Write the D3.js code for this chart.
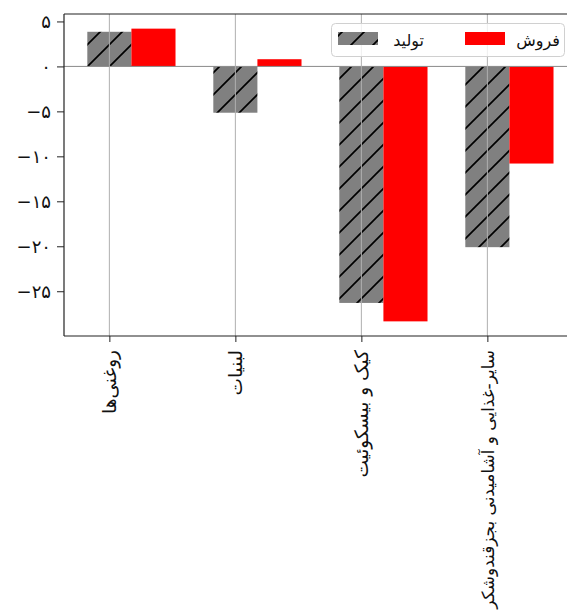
<!DOCTYPE html>
<html>
<head>
<meta charset="utf-8">
<script src="https://cdn.jsdelivr.net/npm/d3@7"></script>
<style>
  html, body { margin: 0; padding: 0; background: #fff; }
  svg { display: block; }
  text { font-family: "DejaVu Sans", sans-serif; }
</style>
</head>
<body>
<svg id="chart" width="567" height="612"></svg>
<script>
// ---- data ----
const categories = ["روغنی‌ها", "لبنیات", "کیک و بیسکوئیت", "سایر-غذایی و آشامیدنی بجزقندوشکر"];
const production = [3.85, -5.15, -26.3, -20.1];   // تولید
const sales = [4.2, 0.8, -28.35, -10.8];           // فروش
const seriesNames = ["تولید", "فروش"];
const yTicks = [5, 0, -5, -10, -15, -20, -25];

(function () {
// ---- layout ----
const W = 567, H = 612;
const mLeft = 64, mTop = 14, mBottom = 336;
const barW = 0.35;
const svg = d3.select("#chart");
svg.append("rect").attr("width", W).attr("height", H).attr("fill", "#fff");

// x domain like matplotlib autoscale (5% margins)
const xMin = -barW / 2, xMax = categories.length - 1 + barW * 1.5;
const xPad = (xMax - xMin) * 0.05;
const pxPerUnit = 126;
const x = d3.scaleLinear().domain([xMin - xPad, xMax + xPad])
  .range([mLeft, mLeft + pxPerUnit * (xMax - xMin + 2 * xPad)]);

const all = production.concat(sales);
const yLo = d3.min(all), yHi = d3.max(all);
const yPad = (yHi - yLo) * 0.05;
const y = d3.scaleLinear().domain([yLo - yPad, yHi + yPad]).range([mBottom, mTop]);

// hatch pattern
const defs = svg.append("defs");
const pat = defs.append("pattern").attr("id", "hatch")
  .attr("patternUnits", "userSpaceOnUse").attr("width", 22).attr("height", 22);
pat.append("rect").attr("width", 22).attr("height", 22).attr("fill", "#808080");
pat.append("path").attr("d", "M-2,24 L24,-2 M-13,13 L13,-13 M9,35 L35,9")
  .attr("stroke", "#000").attr("stroke-width", 1.7);

const clip = defs.append("clipPath").attr("id", "plotclip");
clip.append("rect").attr("x", mLeft).attr("y", mTop).attr("width", W - mLeft).attr("height", mBottom - mTop);

const plot = svg.append("g").attr("clip-path", "url(#plotclip)");

// bars
plot.selectAll("rect.prod").data(production).join("rect").attr("class", "prod")
  .attr("x", (d, i) => x(i - barW / 2))
  .attr("width", (d, i) => x(i + barW / 2) - x(i - barW / 2))
  .attr("y", d => y(Math.max(0, d)))
  .attr("height", d => Math.abs(y(d) - y(0)))
  .attr("fill", "url(#hatch)");

plot.selectAll("rect.sales").data(sales).join("rect").attr("class", "sales")
  .attr("x", (d, i) => x(i + barW / 2))
  .attr("width", (d, i) => x(i + barW * 1.5) - x(i + barW / 2))
  .attr("y", d => y(Math.max(0, d)))
  .attr("height", d => Math.abs(y(d) - y(0)))
  .attr("fill", "#ff0000");

// zero line
plot.append("line").attr("x1", mLeft).attr("x2", W).attr("y1", y(0)).attr("y2", y(0))
  .attr("stroke", "#8a8a8a").attr("stroke-width", 1);

// vertical grid
plot.selectAll("line.grid").data(categories.map((d, i) => i)).join("line").attr("class", "grid")
  .attr("x1", d => x(d)).attr("x2", d => x(d)).attr("y1", mTop).attr("y2", mBottom)
  .attr("stroke", "#b0b0b0").attr("stroke-width", 1);

// helpers
const faDigits = "۰۱۲۳۴۵۶۷۸۹";
const toFa = n => (n < 0 ? "−" : "") + String(Math.abs(n)).replace(/\d/g, c => faDigits[+c]);

// y axis
const yAxis = svg.append("g").attr("transform", `translate(${mLeft},0)`)
  .call(d3.axisLeft(y).tickValues(yTicks).tickFormat(toFa).tickSize(7).tickPadding(6));
yAxis.select(".domain").remove();
yAxis.selectAll("text").attr("font-size", 18).attr("fill", "#111").style("font-family", "DejaVu Sans");
yAxis.selectAll("line").attr("stroke", "#222");

// x axis
const labelOffset = 14, labelFont = 18.5;
const xAxis = svg.append("g").attr("transform", `translate(0,${mBottom})`)
  .call(d3.axisBottom(x).tickValues(categories.map((d, i) => i)).tickFormat(i => categories[i]).tickSize(6));
xAxis.select(".domain").remove();
xAxis.selectAll("line").attr("stroke", "#222");
xAxis.selectAll("text")
  .attr("transform", "rotate(-90)")
  .attr("text-anchor", "end")
  .attr("x", -labelOffset).attr("y", 0).attr("dy", "0.35em")
  .attr("font-size", labelFont).attr("fill", "#111").style("font-family", "DejaVu Sans")
  .each(function () {
    // shrink a label only if it would run past the bottom edge
    const avail = H - mBottom - labelOffset - 3;
    const len = this.getComputedTextLength();
    if (len > avail) d3.select(this).attr("font-size", labelFont * avail / len);
  });

// spines
svg.append("line").attr("x1", mLeft).attr("x2", mLeft).attr("y1", mTop).attr("y2", mBottom).attr("stroke", "#222").attr("stroke-width", 1.2);
svg.append("line").attr("x1", mLeft).attr("x2", W).attr("y1", mTop).attr("y2", mTop).attr("stroke", "#222").attr("stroke-width", 1.2);
svg.append("line").attr("x1", mLeft).attr("x2", W).attr("y1", mBottom).attr("y2", mBottom).attr("stroke", "#222").attr("stroke-width", 1.2);

// legend
const lg = svg.append("g");
lg.append("rect").attr("x", 331.5).attr("y", 23.5).attr("width", 233).attr("height", 33).attr("rx", 4)
  .attr("fill", "#fff").attr("fill-opacity", 0.8).attr("stroke", "#d0d0d0");
lg.append("rect").attr("x", 338).attr("y", 32).attr("width", 40).attr("height", 13).attr("fill", "url(#hatch)");
lg.append("text").attr("x", 424).attr("y", 40).attr("dy", "0.35em").attr("text-anchor", "end")
  .attr("font-size", 16).attr("fill", "#111").text(seriesNames[0]);
lg.append("rect").attr("x", 465).attr("y", 32).attr("width", 40).attr("height", 13).attr("fill", "#ff0000");
lg.append("text").attr("x", 560).attr("y", 40).attr("dy", "0.35em").attr("text-anchor", "end")
  .attr("font-size", 16).attr("fill", "#111").text(seriesNames[1]);
})();
</script>
</body>
</html>
